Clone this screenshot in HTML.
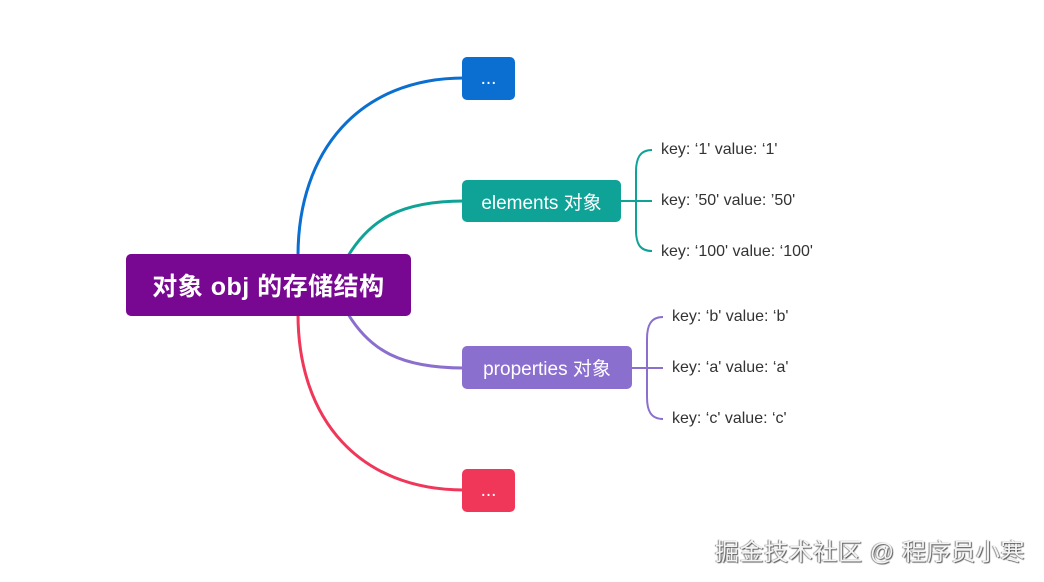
<!DOCTYPE html>
<html><head><meta charset="utf-8"><style>
html,body{margin:0;padding:0;background:#fff;}
body{width:1044px;height:582px;position:relative;overflow:hidden;font-family:"Liberation Sans","Noto Sans CJK SC",sans-serif;}
.box{position:absolute;color:#fff;display:flex;align-items:center;justify-content:center;border-radius:5px;font-size:19px;}
.t{position:absolute;font-size:16px;color:#333;white-space:nowrap;line-height:18px;}
.wm{position:absolute;left:715px;top:532px;font-size:24px;color:#f4f4f4;text-shadow:1px 1px 1px #555,-1px 0 1px #888;white-space:nowrap;letter-spacing:0.6px;}
</style></head><body>
<svg width="1044" height="582" style="position:absolute;left:0;top:0" fill="none" stroke-width="3">
<path d="M298,256 C298,150 360,78 464,78" stroke="#0a6fd0"/>
<path d="M348,256 C370,220 400,201 464,201" stroke="#0fa398"/>
<path d="M348,314 C370,350 400,368 464,368" stroke="#8b6fcf"/>
<path d="M298,314 C298,420 360,490 464,490" stroke="#f0375a"/>
<g stroke-width="2">
<path d="M620,201 H652 M652,150 C640,150 636,158 636,172 V230 C636,244 640,251 652,251" stroke="#0fa398"/>
<path d="M630,368 H663 M663,317 C651,317 647,325 647,339 V397 C647,411 651,419 663,419" stroke="#8b6fcf"/>
</g>
</svg>
<div class="box" style="left:126px;top:254px;width:285px;height:62px;background:#780891;font-size:25px;font-weight:bold;letter-spacing:0.5px;">对象 obj 的存储结构</div>
<div class="box" style="left:462px;top:57px;width:53px;height:43px;background:#0a6fd0;">...</div>
<div class="box" style="left:462px;top:180px;width:159px;height:42px;background:#0fa398;">elements 对象</div>
<div class="box" style="left:462px;top:346px;width:170px;height:43px;background:#8b6fcf;">properties 对象</div>
<div class="box" style="left:462px;top:469px;width:53px;height:43px;background:#f0375a;">...</div>
<div class="t" style="left:661px;top:141px">key: ‘1' value: ‘1'</div>
<div class="t" style="left:661px;top:192px">key: ’50' value: ’50'</div>
<div class="t" style="left:661px;top:243px">key: ‘100' value: ‘100'</div>
<div class="t" style="left:672px;top:308px">key: ‘b' value: ‘b'</div>
<div class="t" style="left:672px;top:359px">key: ‘a' value: ‘a'</div>
<div class="t" style="left:672px;top:410px">key: ‘c' value: ‘c'</div>
<div class="wm">掘金技术社区 @ 程序员小寒</div>
</body></html>
